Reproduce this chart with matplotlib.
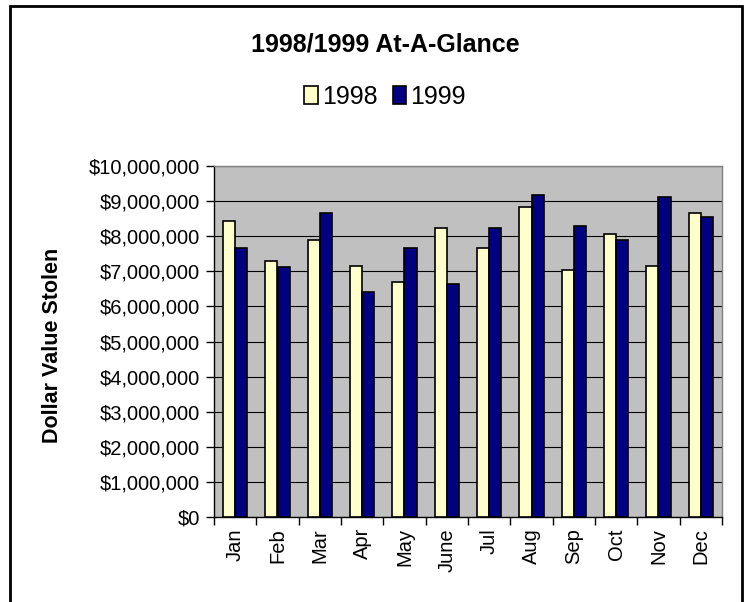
import matplotlib.pyplot as plt
import matplotlib.patches as patches
from matplotlib.ticker import FuncFormatter, FixedLocator
import numpy as np

plt.rcParams['font.family'] = ['Liberation Sans', 'DejaVu Sans']

# --- Data (dollar values) ---
months = ["Jan", "Feb", "Mar", "Apr", "May", "June",
          "Jul", "Aug", "Sep", "Oct", "Nov", "Dec"]
stolen_1998 = [8420000, 7280000, 7890000, 7160000, 6700000, 8240000,
               7670000, 8830000, 7050000, 8050000, 7160000, 8660000]
stolen_1999 = [7670000, 7110000, 8660000, 6410000, 7670000, 6650000,
               8240000, 9180000, 8280000, 7900000, 9120000, 8540000]
y_ticks = [0, 1000000, 2000000, 3000000, 4000000, 5000000,
           6000000, 7000000, 8000000, 9000000, 10000000]

W, H = 747, 602
fig = plt.figure(figsize=(W / 100, H / 100), dpi=100)
fig.patch.set_facecolor("white")

# plot area in pixel coords
left, right, top, bottom = 214, 722, 166, 517
ax = fig.add_axes([left / W, 1 - bottom / H, (right - left) / W, (bottom - top) / H])
ax.set_facecolor("#C0C0C0")

x = np.arange(len(months))
bw = 0.29
ax.bar(x - bw / 2, stolen_1998, width=bw, color="#FFFFCC", edgecolor="black",
       linewidth=1.2, label="1998", zorder=3)
ax.bar(x + bw / 2, stolen_1999, width=bw, color="#000080", edgecolor="black",
       linewidth=1.2, label="1999", zorder=3)

ax.set_xlim(-0.5, len(months) - 0.5)
ax.set_ylim(0, 10000000)
ax.set_yticks(y_ticks)
ax.yaxis.set_major_formatter(FuncFormatter(lambda v, p: f"${v:,.0f}"))
ax.grid(axis="y", color="black", linewidth=0.8, zorder=1)

# category boundaries get tick marks, centers get labels
ax.xaxis.set_major_locator(FixedLocator(np.arange(-0.5, len(months), 1.0)))
ax.xaxis.set_major_formatter(FuncFormatter(lambda v, p: ""))
ax.xaxis.set_minor_locator(FixedLocator(x))
ax.set_xticklabels(months, minor=True, rotation=90)
ax.tick_params(axis="x", which="minor", length=0, pad=8, labelsize=14.5)
ax.tick_params(axis="x", which="major", length=6, width=1, direction="out")
ax.tick_params(axis="y", length=6, width=1, direction="out", labelsize=14.5, pad=4)

for s in ["left", "bottom"]:
    ax.spines[s].set_color("black")
    ax.spines[s].set_linewidth(1)
for s in ["top", "right"]:
    ax.spines[s].set_color("#808080")
    ax.spines[s].set_linewidth(1)

# --- Text ---
fig.text(385 / W, 1 - 45 / H, "1998/1999 At-A-Glance", ha="center", va="center",
         fontsize=18, fontweight="bold")
fig.text(52 / W, 1 - 345 / H, "Dollar Value Stolen", ha="center", va="center",
         rotation=90, fontsize=15.5, fontweight="bold")

fig.legend(loc="center", bbox_to_anchor=(385 / W, 1 - 97 / H), ncol=2,
           frameon=False, fontsize=18, handlelength=0.55, handleheight=0.75,
           handletextpad=0.15, columnspacing=0.6)

# outer chart border (bottom edge runs off the picture)
border = patches.Rectangle((10 / W, -0.05), 732 / W, 1.05 - 6 / H,
                           transform=fig.transFigure, fill=False,
                           edgecolor="black", linewidth=2, clip_on=False)
fig.patches.append(border)

fig.savefig("out.png", dpi=100)
